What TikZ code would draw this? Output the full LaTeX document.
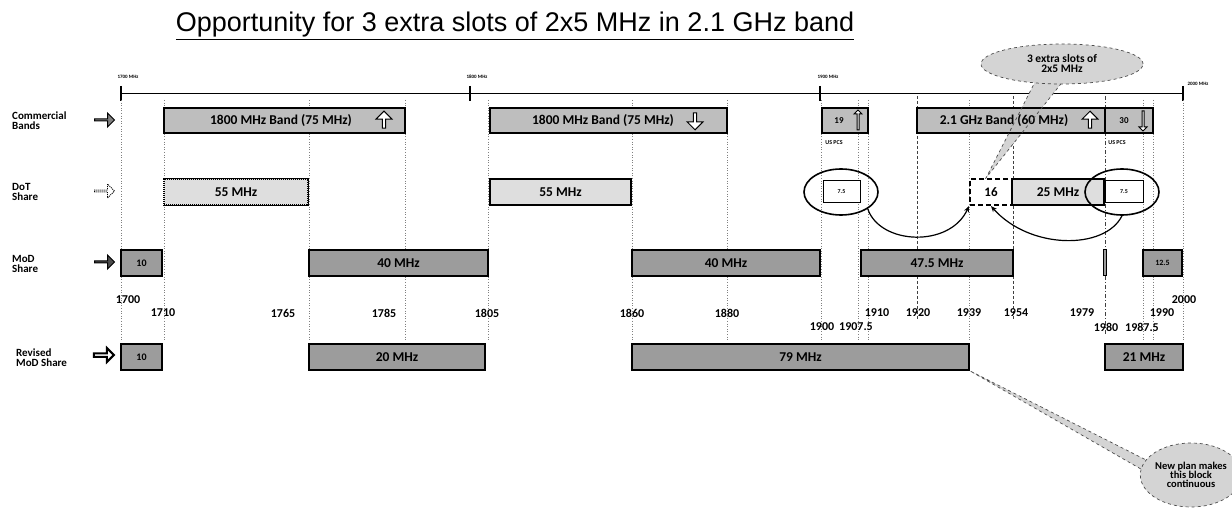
\documentclass[tikz,border=0pt]{standalone}
\usepackage{fontspec}
\setmainfont{Carlito}
\newfontfamily\arialfont{Liberation Sans}
\usetikzlibrary{shapes.arrows,shapes.geometric,arrows.meta,calc}
\definecolor{cgray}{HTML}{BEBEBE}
\definecolor{mgray}{HTML}{9C9C9C}
\definecolor{dgray}{HTML}{DEDEDE}
\definecolor{bgray}{HTML}{D4D4D4}
\tikzset{
  bx/.style={draw=black, line width=1.6pt, inner sep=0pt, minimum height=25pt, font=\bfseries\fontsize{13.5}{14}\selectfont},
  cbox/.style={bx, fill=cgray},
  mbox/.style={bx, fill=mgray},
  dbox/.style={bx, fill=dgray, line width=1.3pt},
  btext/.style={font=\bfseries\fontsize{13.5}{14}\selectfont, inner sep=0pt},
  wbox/.style={draw=black, line width=1pt, fill=white, inner sep=0pt, minimum height=22pt, font=\bfseries\fontsize{6}{7}\selectfont},
  guide/.style={gray, line width=0.6pt, dotted},
  dguide/.style={black!75, line width=0.9pt, dash pattern=on 3pt off 2pt},
  rowlab/.style={anchor=west, align=left, font=\bfseries\fontsize{11}{12}\selectfont, inner sep=0pt},
  num/.style={font=\bfseries\fontsize{12}{13}\selectfont, inner sep=0pt},
  tick/.style={font=\bfseries\fontsize{5}{6}\selectfont, inner sep=0pt},
  rarrow/.style={single arrow, draw=black, line width=1pt, minimum height=20pt, minimum width=14pt, single arrow head extend=3pt, inner sep=0pt},
  uparrow/.style={single arrow, draw=black, line width=1pt, fill=white, minimum height=17pt, minimum width=16pt, single arrow head extend=2pt, inner sep=0pt},
  oval/.style={ellipse, draw=black, line width=1.6pt, minimum width=74pt, minimum height=46pt},
  bubble/.style={ellipse, draw=black!70, dashed, line width=0.7pt, fill=bgray, align=center, inner sep=0pt, font=\bfseries\fontsize{11.5}{12}\selectfont},
  wedge/.style={black!70, dashed, line width=0.7pt},
  link/.style={black, line width=1.2pt, -{Stealth[length=6pt,width=5pt]}}
}
\begin{document}
\begin{tikzpicture}[x=1pt,y=-1pt]
\useasboundingbox (0,0) rectangle (1232,513);
% title
\node[font=\arialfont\fontsize{27}{30}\selectfont, inner sep=0pt] (title) at (515,26) {\underline{Opportunity for 3 extra slots of 2x5 MHz in 2.1 GHz band}};
% scale
\coordinate (s0) at (121,93);
\coordinate (s1) at (1183,93);
\draw[line width=0.8pt] (s0) -- (s1);
\foreach \x/\n in {121/t0,470/t1,820/t2,1183/t3}{
  \coordinate (\n a) at (\x,86);
  \coordinate (\n b) at (\x,101);
  \draw[line width=1.2pt] (\n a) -- (\n b);
}
\node[tick] (l1700) at (128,77) {1700 MHz};
\node[tick] (l1800) at (477,77) {1800 MHz};
\node[tick] (l1900) at (828,77) {1900 MHz};
\node[tick] (l2000) at (1198,84) {2000 MHz};
% guide lines
\foreach \x in {121,164,309,405,488,632,727,821,858,868,969,1143,1153,1183}{
  \draw[guide] (\x,100) -- (\x,340);
}
\foreach \x in {917,1013}{
  \draw[dguide] (\x,96) -- (\x,320);
}
\draw[black!75, line width=0.9pt, dash pattern=on 4pt off 2pt on 1pt off 2pt] (1105,96) -- (1105,335);
% top callout wedge (behind boxes)
\coordinate (tip1) at (986,178);
\coordinate (w1a) at (1036,80);
\coordinate (w1b) at (1064,80);
\fill[bgray] (w1a) -- (tip1) -- (w1b) -- cycle;
% row labels
\node[rowlab] (rl1) at (12,121) {Commercial\\[-2pt]Bands};
\node[rowlab] (rl2) at (12,192) {DoT\\[-2pt]Share};
\node[rowlab] (rl3) at (12,264) {MoD\\[-2pt]Share};
\node[rowlab] (rl4) at (16,358) {Revised\\[-2pt]MoD Share};
\node[rarrow, fill=gray] (ar1) at (104,120) {};
\node[rarrow, fill=white, densely dotted, line width=0.9pt] (ar2) at (104,191) {};
\node[rarrow, fill=black!70] (ar3) at (104,262) {};
\node[rarrow, fill=white, line width=2pt] (ar4) at (103,355) {};
% commercial
\node[cbox, minimum width=241pt] (A) at (284.5,120.5) {};
\node[btext] (At) at (281,120.5) {1800 MHz Band (75 MHz)};
\node[uparrow, shape border rotate=90] (Aa) at (384,120.5) {};
\node[cbox, minimum width=237pt] (B) at (608.5,120.5) {};
\node[btext] (Bt) at (603,120.5) {1800 MHz Band (75 MHz)};
\node[uparrow, shape border rotate=270] (Ba) at (695,120.5) {};
\node[cbox, minimum width=46pt] (C) at (845,120.5) {};
\node[font=\bfseries\fontsize{9}{10}\selectfont] (Ct) at (839,120.5) {19};
\node[uparrow, shape border rotate=90, minimum width=8pt, minimum height=20pt, single arrow head extend=1.5pt] (Ca) at (858,120.5) {};
\node[cbox, minimum width=188pt] (D) at (1011,120.5) {};
\node[btext] (Dt) at (1004,120.5) {2.1 GHz Band (60 MHz)};
\node[uparrow, shape border rotate=90] (Da) at (1090,120.5) {};
\node[cbox, minimum width=48pt] (E) at (1129,120.5) {};
\node[font=\bfseries\fontsize{9}{10}\selectfont] (Et) at (1124,120.5) {30};
\node[uparrow, shape border rotate=270, minimum width=8pt, minimum height=20pt, single arrow head extend=1.5pt] (Ea) at (1143,120.5) {};
\node[font=\bfseries\fontsize{6}{7}\selectfont] (us1) at (834,143) {US PCS};
\node[font=\bfseries\fontsize{6}{7}\selectfont] (us2) at (1117,143) {US PCS};
% wedge outline on top
\draw[wedge] (w1a) -- (tip1) -- (w1b);
% DoT share
\node[dbox, minimum width=144pt, minimum height=26pt, dash pattern=on 1pt off 1pt] (D1) at (236,192) {};
\draw[line width=1.3pt] (D1.north west) -- (D1.north east) -- (D1.south east) -- (D1.south west);
\node[btext] (D1t) at (236,192) {55 MHz};
\node[dbox, minimum width=141pt, minimum height=26pt] (D2) at (560.5,192) {55 MHz};
\node[wbox, minimum width=37pt] (D3) at (841.5,192) {7.5};
\node[draw=black, line width=2.2pt, dash pattern=on 5pt off 3pt, fill=white, minimum width=42pt, minimum height=26pt, inner sep=0pt, font=\bfseries\fontsize{13}{14}\selectfont] (D4) at (991,192) {16};
\node[dbox, minimum width=92pt, minimum height=26pt] (D5) at (1058,192) {25 MHz};
\node[wbox, minimum width=38pt] (D6) at (1124,192) {7.5};
\node[oval] (O1) at (841,192) {};
\node[oval] (O2) at (1122,192) {};
% MoD share
\node[mbox, minimum width=41pt, minimum height=26pt, font=\bfseries\fontsize{10}{11}\selectfont] (M1) at (141.5,263) {10};
\node[mbox, minimum width=179pt, minimum height=26pt] (M2) at (398.5,263) {40 MHz};
\node[mbox, minimum width=188pt, minimum height=26pt] (M3) at (726,263) {40 MHz};
\node[mbox, minimum width=152pt, minimum height=26pt] (M4) at (937,263) {47.5 MHz};
\node[mbox, minimum width=3pt, minimum height=26pt, line width=1pt] (M5) at (1105,263) {};
\node[mbox, minimum width=39pt, minimum height=26pt, font=\bfseries\fontsize{8}{9}\selectfont] (M6) at (1162.5,263) {12.5};
% curved links
\draw[link] (O1.south east) .. controls (880,245) and (950,248) .. (D4.south west);
\draw[link] (O2.south) .. controls (1105,250) and (1030,250) .. (D4.south);
% frequency numbers
\node[num] (n1700) at (128,300) {1700};
\node[num] (n1710) at (163,313) {1710};
\node[num] (n1765) at (283,313) {1765};
\node[num] (n1785) at (384,313) {1785};
\node[num] (n1805) at (487,313) {1805};
\node[num] (n1860) at (632,313) {1860};
\node[num] (n1880) at (727,313) {1880};
\node[num] (n1900) at (822,327) {1900};
\node[num] (n19075) at (856,327) {1907.5};
\node[num] (n1910) at (877,313) {1910};
\node[num] (n1920) at (918,313) {1920};
\node[num] (n1939) at (969,313) {1939};
\node[num] (n1954) at (1016,313) {1954};
\node[num] (n1979) at (1082,313) {1979};
\node[num] (n1980) at (1106,327) {1980};
\node[num] (n19875) at (1142,327) {1987.5};
\node[num] (n1990) at (1162,313) {1990};
\node[num] (n2000) at (1184,300) {2000};
% revised MoD share
\node[mbox, minimum width=41pt, minimum height=26pt, font=\bfseries\fontsize{10}{11}\selectfont] (R1) at (141.5,357) {10};
\node[mbox, minimum width=176pt, minimum height=26pt] (R2) at (397,357) {20 MHz};
\node[mbox, minimum width=337pt, minimum height=26pt] (R3) at (800.5,357) {79 MHz};
\node[mbox, minimum width=78pt, minimum height=26pt] (R4) at (1144,357) {21 MHz};
% top callout bubble
\node[bubble, minimum width=162pt, minimum height=40pt] (cb1) at (1062,64) {3 extra slots of\\[-2pt]2x5 MHz};
% bottom callout
\coordinate (tip2) at (R3.south east);
\coordinate (w2a) at (1150,462);
\coordinate (w2b) at (1160,480);
\fill[bgray] (w2a) -- (tip2) -- (w2b) -- cycle;
\draw[wedge] (w2a) -- (tip2) -- (w2b);
\node[bubble, minimum width=92pt, minimum height=64pt, font=\bfseries\fontsize{10.5}{11}\selectfont] (cb2) at (1191,475) {New plan makes\\[-2pt]this block\\[-2pt]continuous};
\end{tikzpicture}
\end{document}
